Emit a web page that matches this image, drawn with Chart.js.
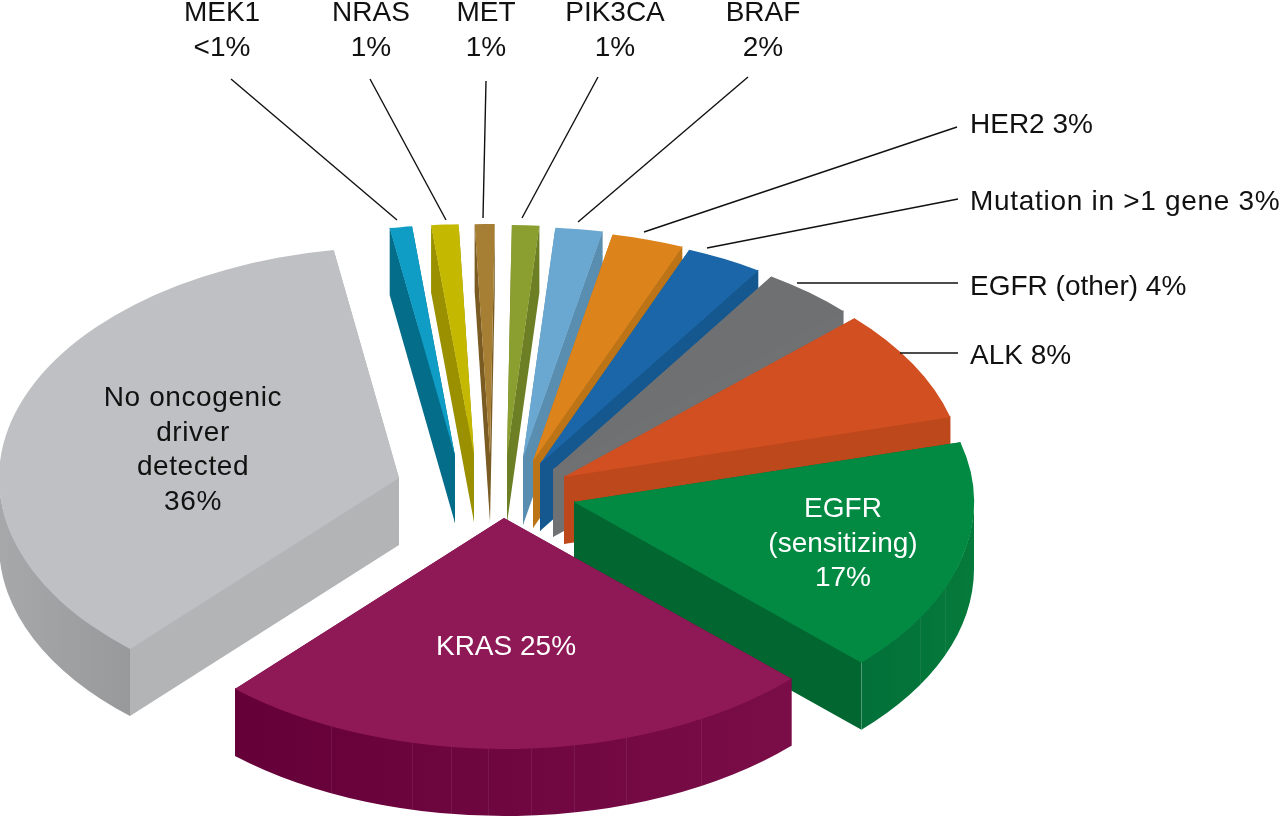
<!DOCTYPE html>
<html>
<head>
<meta charset="utf-8">
<title>Oncogenic drivers</title>
<script src="https://cdn.jsdelivr.net/npm/chart.js@4"></script>
<style>
  html, body { margin: 0; padding: 0; background: #fff; }
  canvas { display: block; }
</style>
</head>
<body>
<canvas id="myChart" width="1280" height="817"></canvas>
<script>
const categories = ['MEK1', 'NRAS', 'MET', 'PIK3CA', 'BRAF', 'HER2', 'Mutation in >1 gene',
    'EGFR (other)', 'ALK', 'EGFR (sensitizing)', 'KRAS', 'No oncogenic driver detected'];
// slice sizes, the printed labels round them
const shares = [0.9, 1.1, 0.8, 1.1, 1.9, 2.9, 3.1, 3.75, 7.9, 16.4, 24.5, 35.65];

const topColors = ['#0f9cc5', '#c5b800', '#a67f35', '#8a9f30', '#6aa8d2', '#dc841b',
    '#1a66a8', '#6f7072', '#d14f20', '#028a43', '#8f1856', '#bfc0c3'];
const wallColors = ['#036d8a', '#9b9100', '#7a5c22', '#6c7f24', '#5a8eb0', '#bd7417',
    '#15588f', '#707173', '#bc481c', '#026630', '#6e0640', '#b3b4b6'];
const rimLeft = ['#036d8a', '#9b9100', '#7a5c22', '#6c7f24', '#5a8eb0', '#bd7417',
    '#15588f', '#747577', '#bc481c', '#03703a', '#650039', '#a7a8aa'];
const rimRight = ['#036d8a', '#9b9100', '#7a5c22', '#6c7f24', '#5a8eb0', '#bd7417',
    '#15588f', '#747577', '#bc481c', '#057a3a', '#7a0d48', '#98999b'];

// how far each slice is pulled out of the pie
const pullX = [-32, -13, 3, 20, 36, 46, 53, 66, 77, 87, 17, -88];
const pullY = [-34, -35, -35, -34, -32, -29, -26, -20, -13, 12, 28, -12];

const SQUASH = 0.5775;
const DEPTH = 67;

// faint joins in the rim of the two front slices
const rimSeams = {
    9: [861, 920, 945],
    10: [331, 412, 451, 488, 531, 574, 626, 701],
};

const textLabels = [
    {lines: ['MEK1', '<1%'], x: 222, y: 21, align: 'center', color: '#111'},
    {lines: ['NRAS', '1%'], x: 371, y: 21, align: 'center', color: '#111'},
    {lines: ['MET', '1%'], x: 486, y: 21, align: 'center', color: '#111'},
    {lines: ['PIK3CA', '1%'], x: 615, y: 21, align: 'center', color: '#111'},
    {lines: ['BRAF', '2%'], x: 763, y: 21, align: 'center', color: '#111'},
    {lines: ['HER2 3%'], x: 970, y: 133, align: 'left', color: '#111'},
    {lines: ['Mutation in >1 gene 3%'], x: 970, y: 210, align: 'left', color: '#111', spacing: 0.7},
    {lines: ['EGFR (other) 4%'], x: 970, y: 295, align: 'left', color: '#111'},
    {lines: ['ALK 8%'], x: 970, y: 364, align: 'left', color: '#111'},
    {lines: ['No oncogenic', 'driver', 'detected', '36%'], x: 193, y: 406, align: 'center', color: '#111', spacing: 0.6},
    {lines: ['EGFR', '(sensitizing)', '17%'], x: 843, y: 517, align: 'center', color: '#fff'},
    {lines: ['KRAS 25%'], x: 506, y: 655, align: 'center', color: '#fff'},
];

const leaders = [
    [231, 79, 397, 220], [370, 79, 446, 220], [486, 81, 483, 218], [598, 77, 522, 218],
    [748, 77, 578, 222], [957, 127, 644, 232], [958, 199, 707, 248], [958, 283, 797, 283],
    [958, 353, 900, 353],
];

function fillWall(ctx, x1, y1, x2, y2, color, lift) {
    ctx.beginPath();
    ctx.moveTo(x1, y1 - lift);
    ctx.lineTo(x2, y2 - lift);
    ctx.lineTo(x2, y2 + DEPTH);
    ctx.lineTo(x1, y1 + DEPTH);
    ctx.closePath();
    ctx.fillStyle = color;
    ctx.fill();
}

// walls below an edge run up under the top face, so no light seam shows
function edgeLift(ax, ay, mx, my) {
    const side = ax * my - ay * mx;
    return (ax > 0 ? side < 0 : side > 0) ? 1 : 0;
}

// draws the library's arcs flattened, with a wall below each of them
const extrude = {
    id: 'extrude',
    beforeDatasetDraw(chart, args) {
        const ctx = chart.ctx;
        args.meta.data.forEach((arc, i) => {
            const cx = arc.x + pullX[i];
            const cy = arc.y + pullY[i];
            const rx = arc.outerRadius;
            const ry = arc.outerRadius * SQUASH;
            const a = arc.startAngle;
            const b = arc.endAngle;
            const ax = rx * Math.cos(a), ay = ry * Math.sin(a);
            const bx = rx * Math.cos(b), by = ry * Math.sin(b);
            const mx = rx * Math.cos((a + b) / 2), my = ry * Math.sin((a + b) / 2);

            fillWall(ctx, cx, cy, cx + ax, cy + ay, wallColors[i], edgeLift(ax, ay, mx, my));
            fillWall(ctx, cx, cy, cx + bx, cy + by, wallColors[i], edgeLift(bx, by, mx, my));

            // only the front of the rim can be seen
            const from = Math.max(a, 0);
            const to = Math.min(b, Math.PI);
            if (to > from) {
                const grad = ctx.createLinearGradient(cx + rx * Math.cos(to), 0, cx + rx * Math.cos(from), 0);
                grad.addColorStop(0, rimLeft[i]);
                grad.addColorStop(1, rimRight[i]);
                ctx.beginPath();
                ctx.ellipse(cx, cy - 1, rx, ry, 0, from, to);
                ctx.ellipse(cx, cy + DEPTH, rx, ry, 0, to, from, true);
                ctx.closePath();
                ctx.fillStyle = grad;
                ctx.fill();

                ctx.strokeStyle = 'rgba(255,255,255,0.07)';
                ctx.lineWidth = 1;
                (rimSeams[i] || []).forEach(x => {
                    const u = (x - cx) / rx;
                    const y = cy + ry * Math.sqrt(1 - u * u);
                    ctx.beginPath();
                    ctx.moveTo(x + 0.5, y);
                    ctx.lineTo(x + 0.5, y + DEPTH);
                    ctx.stroke();
                });
            }

            ctx.save();
            ctx.translate(cx, cy);
            ctx.scale(1, SQUASH);
            ctx.translate(-arc.x, -arc.y);
            arc.draw(ctx);
            ctx.restore();
        });
        return false;
    },
    afterDraw(chart) {
        const ctx = chart.ctx;
        ctx.save();
        ctx.strokeStyle = '#111';
        ctx.lineWidth = 1.4;
        leaders.forEach(l => {
            ctx.beginPath();
            ctx.moveTo(l[0], l[1]);
            ctx.lineTo(l[2], l[3]);
            ctx.stroke();
        });
        ctx.font = '28px "Liberation Sans", Arial, sans-serif';
        ctx.textBaseline = 'alphabetic';
        textLabels.forEach(t => {
            ctx.textAlign = t.align;
            ctx.fillStyle = t.color;
            ctx.letterSpacing = (t.spacing || 0) + 'px';
            t.lines.forEach((line, n) => ctx.fillText(line, t.x, t.y + n * 34.5));
        });
        ctx.restore();
    }
};

const myChart = new Chart(document.getElementById('myChart'), {
    type: 'pie',
    data: {
        labels: categories,
        datasets: [{
            data: shares,
            backgroundColor: topColors,
            borderWidth: 0,
        }]
    },
    options: {
        responsive: false,
        animation: false,
        rotation: -9.4,
        radius: 400,
        layout: {padding: {right: 306, top: 163}},
        plugins: {
            legend: {display: false},
            tooltip: {enabled: false},
        }
    },
    plugins: [extrude]
});
</script>
</body>
</html>
